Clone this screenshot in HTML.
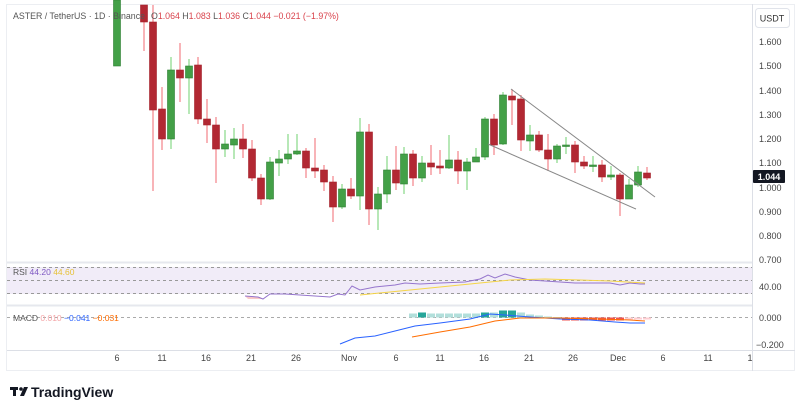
<!DOCTYPE html>
<html><head><meta charset="utf-8"><style>
html,body{margin:0;padding:0;background:#fff;width:800px;height:400px;overflow:hidden}
svg{display:block;font-family:"Liberation Sans",sans-serif}
</style></head><body>
<svg width="800" height="400" viewBox="0 0 800 400" xmlns="http://www.w3.org/2000/svg">
<rect x="0" y="0" width="800" height="400" fill="#fff"/>
<rect x="6.5" y="4.5" width="788" height="366" fill="none" stroke="#eceef2"/>
<line x1="752.5" y1="4" x2="752.5" y2="371" stroke="#dcdfe6"/>
<line x1="7" y1="262.5" x2="752" y2="262.5" stroke="#e6e8ee" stroke-width="2"/>
<line x1="7" y1="305.5" x2="752" y2="305.5" stroke="#e6e8ee" stroke-width="2"/>
<line x1="7" y1="350.5" x2="795" y2="350.5" stroke="#dcdfe6"/>
<g id="cd"></g>
<text x="13" y="19" font-size="8.8" fill="#555" textLength="132" lengthAdjust="spacingAndGlyphs">ASTER / TetherUS · 1D · Binance</text>
<text x="151" y="19" font-size="8.8" fill="#555">O<tspan fill="#d9434c">1.064</tspan>  H<tspan fill="#d9434c">1.083</tspan>  L<tspan fill="#d9434c">1.036</tspan>  C<tspan fill="#d9434c">1.044</tspan>  <tspan fill="#d9434c">−0.021 (−1.97%)</tspan></text>
<rect x="755.5" y="8.5" width="34" height="19" rx="3" fill="#fff" stroke="#e0e3ea"/>
<text x="772" y="21.5" font-size="9" fill="#333" text-anchor="middle">USDT</text>
<g font-size="9" fill="#444">
<text x="759" y="45">1.600</text><text x="759" y="69">1.500</text><text x="759" y="94">1.400</text>
<text x="759" y="118">1.300</text><text x="759" y="142">1.200</text><text x="759" y="166">1.100</text>
<text x="759" y="191">1.000</text><text x="759" y="215">0.900</text><text x="759" y="239">0.800</text>
<text x="759" y="263">0.700</text>
<text x="759" y="290">40.00</text><text x="759" y="321">0.000</text><text x="756" y="348">−0.200</text>
</g>
<rect x="753" y="170" width="32" height="13" rx="1" fill="#131722"/>
<text x="769" y="180" font-size="9" fill="#fff" text-anchor="middle" font-weight="bold">1.044</text>
<rect x="7" y="267" width="745" height="27" fill="#ede7f6" opacity="0.8"/>
<g stroke="#999" stroke-dasharray="3,3" stroke-width="1">
<line x1="7" y1="267.5" x2="752" y2="267.5"/><line x1="7" y1="280.5" x2="752" y2="280.5"/><line x1="7" y1="293.5" x2="752" y2="293.5"/>
<line x1="7" y1="317.5" x2="752" y2="317.5" stroke="#aaa"/>
</g>
<text x="13" y="275" font-size="8.5" fill="#555">RSI <tspan fill="#7e57c2">44.20</tspan> <tspan fill="#e6c23a">44.60</tspan></text>
<polygon points="245,296 260,297 262,299 248,299" fill="#f8c8c8"/>
<polyline fill="none" stroke="#9575cd" stroke-width="1" points="245,296 258,297 263,299 270,294 285,294 300,295 315,296 330,297 338,294 345,295 352,286 360,290 375,287 395,285 405,283 420,284 440,283 465,282 480,279 488,275 495,278 505,274 515,277 530,280 545,281 560,282 575,283 590,283 610,283 620,285 630,283 640,284 645,284"/>
<polyline fill="none" stroke="#f5d547" stroke-width="1" points="360,295 400,291 440,287 480,283 510,280 545,279 580,280 610,281 645,283"/>
<text x="13" y="321" font-size="8.5" fill="#555">MACD <tspan fill="#f4a6a8">0.010</tspan> <tspan fill="#2962ff">−0.041</tspan> <tspan fill="#ff6d00">−0.031</tspan></text>
<g id="hist"></g>
<polyline fill="none" stroke="#2962ff" stroke-width="1" points="340,344 355,338 375,336 395,331 415,326 440,323 470,319 490,314 505,315 530,317 560,319 590,320 615,322 630,323 645,323"/>
<polyline fill="none" stroke="#ff6d00" stroke-width="1" points="412,337 440,332 470,327 495,321 520,318 560,318 600,319 630,320 645,321"/>
<g font-size="9" fill="#444" text-anchor="middle">
<text x="117" y="361">6</text><text x="162" y="361">11</text><text x="206" y="361">16</text><text x="251" y="361">21</text>
<text x="296" y="361">26</text><text x="349" y="361">Nov</text><text x="396" y="361">6</text><text x="440" y="361">11</text>
<text x="484" y="361">16</text><text x="529" y="361">21</text><text x="573" y="361">26</text><text x="618" y="361">Dec</text>
<text x="663" y="361">6</text><text x="708" y="361">11</text><text x="750" y="361">1</text>
</g>
<rect x="10" y="387" width="8" height="3" fill="#131722"/><rect x="13" y="387" width="3" height="9" fill="#131722"/>
<circle cx="21" cy="389" r="1.8" fill="#131722"/><polygon points="24,387 28,387 24,396 20,396" fill="#131722"/>
<text x="31" y="397" font-size="14" font-weight="bold" fill="#131722">TradingView</text>
</svg>
<script>
var d=[[117,'g',0,66,0,66],[144,'r',5,22,5,51],[153,'r',22,110,5,191],[162,'r',109,139,87,150],[171,'g',70,139,57,149],[180,'r',70,78,43,102],[189,'g',66,78,59,114],[198,'r',65,119,57,124],[207,'r',119,125,99,143],[216,'r',125,149,117,183],[225,'g',144,149,130,157],[234,'g',139,145,128,159],[243,'r',139,149,124,158],[252,'r',149,178,140,181],[261,'r',178,199,174,205],[270,'g',162,199,157,200],[279,'g',159,163,150,176],[288,'g',154,159,134,164],[297,'g',151,154,134,155],[306,'r',151,168,148,178],[315,'r',168,171,138,178],[324,'r',170,182,165,191],[333,'r',182,207,176,222],[342,'g',189,207,184,209],[351,'r',189,196,178,199],[360,'g',132,196,118,210],[369,'r',132,209,124,225],[378,'g',194,209,187,230],[387,'g',170,194,156,203],[396,'r',170,183,146,190],[404,'g',154,184,147,194],[413,'r',154,178,150,186],[422,'g',163,178,156,182],[431,'r',163,167,145,175],[440,'r',166,168,150,174],[449,'g',160,168,135,169],[458,'r',160,171,151,184],[467,'g',162,171,158,190],[476,'g',157,162,148,161],[485,'g',119,157,117,160],[494,'r',119,145,114,155],[503,'g',95,144,92,145],[512,'r',96,100,89,125],[521,'r',99,140,95,151],[530,'g',135,141,125,151],[539,'r',135,150,131,152],[548,'r',150,159,134,171],[557,'g',146,159,144,163],[566,'g',145,146,137,154],[575,'r',145,162,141,173],[584,'r',162,166,156,169],[593,'g',165,166,156,172],[602,'r',165,177,160,182],[611,'g',175,177,166,180],[620,'r',175,199,173,216],[629,'g',185,199,179,199],[638,'g',172,185,166,187],[647,'r',173,178,167,180]];
var s='';
d.forEach(function(c){var x=c[0],g=c[1]=='g';var h=Math.max(c[3]-c[2],1.5);
s+='<line x1="'+x+'" y1="'+c[4]+'" x2="'+x+'" y2="'+c[5]+'" stroke="'+(g?'#6fd06f':'#f06a72')+'"/>';
s+='<rect x="'+(x-3.5)+'" y="'+c[2]+'" width="7" height="'+h+'" fill="'+(g?'#43a047':'#b22833')+'" stroke="'+(g?'#2e7d32':'#a3202b')+'" stroke-width="0.6"/>';});
s+='<line x1="511" y1="89" x2="655" y2="197" stroke="#888"/><line x1="488" y1="144" x2="636" y2="209" stroke="#888"/>';
document.getElementById('cd').innerHTML=s;
var h='',hv={413:4,422:5,431:4,440:4,449:4,458:4,467:4,476:4,485:5,494:5,503:7,512:7,521:5,530:3,539:2,548:1,557:0.5};
for(var x=413;x<=557;x+=9){var v=hv[x];var dark=(x==422||x==485||x==503||x==512);
h+='<rect x="'+(x-4)+'" y="'+(317.5-v)+'" width="8" height="'+v+'" fill="'+(dark?'#26a69a':'#b2dfdb')+'"/>';}
for(var x=566;x<=647;x+=9){var v=x<625?3:2;h+='<rect x="'+(x-4)+'" y="317.5" width="8" height="'+v+'" fill="'+(x<625?'#ef5350':'#ffcdd2')+'"/>';}
document.getElementById('hist').innerHTML=h;
</script>
</body></html>
